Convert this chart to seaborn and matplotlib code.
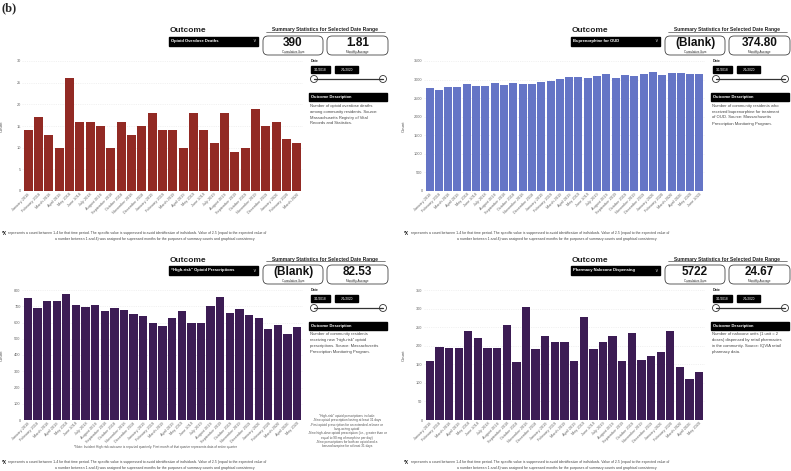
import matplotlib
matplotlib.use('Agg')
import matplotlib.pyplot as plt
import seaborn as sns
import pandas as pd
from matplotlib.patches import Rectangle, FancyBboxPatch, Circle
from matplotlib.lines import Line2D

# ---------------- data ----------------
MONTHS = ["January 2018", "February 2018", "March 2018", "April 2018", "May 2018", "June 2018",
          "July 2018", "August 2018", "September 2018", "October 2018", "November 2018", "December 2018",
          "January 2019", "February 2019", "March 2019", "April 2019", "May 2019", "June 2019",
          "July 2019", "August 2019", "September 2019", "October 2019", "November 2019", "December 2019",
          "January 2020", "February 2020", "March 2020", "April 2020", "May 2020", "June 2020"]

deaths_months = MONTHS[:27]
deaths = [14, 17, 13, 10, 26, 16, 16, 15, 10, 16, 13, 15, 18, 14, 14, 10, 18, 14, 11, 18,
          9, 10, 19, 15, 16, 12, 11]

bup_months = MONTHS[:30]
bup = [2780, 2730, 2800, 2810, 2890, 2820, 2820, 2900, 2850, 2910, 2870, 2880, 2940, 2950, 3020,
       3070, 3060, 3030, 3090, 3140, 3030, 3110, 3090, 3160, 3210, 3130, 3190, 3170, 3150, 3140]

hr_months = MONTHS[:29]
high_risk = [750, 690, 735, 735, 775, 705, 695, 705, 670, 690, 680, 655, 640, 600, 580, 630, 670,
             600, 600, 700, 760, 660, 685, 645, 625, 560, 585, 530, 570]

nal_months = MONTHS[:29]
naloxone = [160, 197, 194, 195, 240, 221, 194, 194, 255, 156, 304, 190, 226, 210, 210, 160, 278,
            190, 210, 225, 159, 235, 161, 172, 182, 240, 142, 110, 130]

outcomes = ["Opioid Overdose Deaths", "Buprenorphine for OUD",
            "\u201cHigh-risk\u201d Opioid Prescriptions", "Pharmacy Naloxone Dispensing"]
cum_sums = ["390", "(Blank)", "(Blank)", "5722"]
monthly_avgs = ["1.81", "374.80", "82.53", "24.67"]
descriptions = [
    ["Number of opioid overdose deaths", "among community residents. Source:",
     "Massachusetts Registry of Vital", "Records and Statistics."],
    ["Number of community residents who", "received buprenorphine for treatment",
     "of OUD. Source: Massachusetts", "Prescription Monitoring Program."],
    ["Number of community residents", "receiving new \u201chigh-risk\u201d opioid",
     "prescriptions. Source: Massachusetts", "Prescription Monitoring Program."],
    ["Number of naloxone units (1 unit = 2", "doses) dispensed by retail pharmacies",
     "in the community. Source: IQVIA retail", "pharmacy data."],
]
colors = ["#922A24", "#6575C6", "#3C1C54", "#3C1C54"]

# ---------------- figure ----------------
sns.set_theme(style='white')
plt.rcParams['font.family'] = ['Liberation Sans', 'DejaVu Sans']

W, H = 791, 471
fig = plt.figure(figsize=(W / 100, H / 100), dpi=100)
T = fig.dpi_scale_trans


def P(x, y):
    return (x / 100, (H - y) / 100)


def txt(x, y, s, **kw):
    kw.setdefault('va', 'center')
    return fig.text(*P(x, y), s, transform=T, **kw)


def rect(x0, y0, x1, y1, **kw):
    fig.add_artist(Rectangle(P(x0, y1), (x1 - x0) / 100, (y1 - y0) / 100, transform=T, **kw))


def rbox(x0, y0, x1, y1, r=5, **kw):
    fig.add_artist(FancyBboxPatch(P(x0, y1), (x1 - x0) / 100, (y1 - y0) / 100,
                                  boxstyle=f"round,pad=0,rounding_size={r / 100}", transform=T, **kw))


def hline(x0, x1, y, **kw):
    fig.add_artist(Line2D([x0 / 100, x1 / 100], [(H - y) / 100] * 2, transform=T, **kw))


FOOT1 = ("represents a count between 1-4 for that time period. The specific value is suppressed to avoid "
         "identification of individuals. Value of 2.5 (equal to the expected value of")
FOOT2 = ("a number between 1 and 4) was assigned for supressed months for the purposes of summary counts "
         "and graphical consistency.")


def panel(ox, oy, months, values, color, ymax, ystep, idx):
    ax = fig.add_axes([(ox + 22) / W, 1 - (oy + 191) / H, 281 / W, 130 / H])
    df = pd.DataFrame({'Month': months, 'Count': values})
    sns.barplot(data=df, x='Month', y='Count', color=color, width=0.86, saturation=1,
                linewidth=0, ax=ax)
    ax.set_ylim(0, ymax)
    ax.set_yticks(list(range(0, ymax + 1, ystep)))
    ax.set_xlim(-0.6, len(months) - 0.4)
    ax.grid(axis='y', color='#e6e6e6', lw=0.4, ls=(0, (2, 2)))
    ax.set_axisbelow(True)
    for s in ax.spines.values():
        s.set_visible(False)
    ax.tick_params(axis='both', length=0, labelsize=2.8, labelcolor='#666666', pad=1)
    ax.set_xticks(list(range(len(months))))
    ax.set_xticklabels(months, rotation=45, ha='right', rotation_mode='anchor')
    ax.set_xlabel('')
    ax.set_ylabel('Count', fontsize=3.2, color='#555555')
    ax.yaxis.set_label_coords(-0.066, 0.5)

    # widgets
    txt(ox + 170, oy + 31, 'Outcome', fontsize=6, weight='bold', color='#222222')
    rect(ox + 169, oy + 37, ox + 258, oy + 45.5, color='black')
    txt(ox + 171, oy + 41.3, outcomes[idx], color='white', fontsize=3, weight='bold')
    txt(ox + 254.5, oy + 41, '\u2228', color='#bbbbbb', fontsize=3.5, ha='center', family='DejaVu Sans')

    txt(ox + 325.5, oy + 30, 'Summary Statistics for Selected Date Range', fontsize=3.6,
        weight='bold', ha='center', color='#222222')
    hline(ox + 266, ox + 385, oy + 32.4, lw=0.4, color='#222222')

    for (x0, x1, big, small) in [(263, 323, cum_sums[idx], 'Cumulative Sum'),
                                 (327, 388, monthly_avgs[idx], 'Monthly Average')]:
        rbox(ox + x0, oy + 36, ox + x1, oy + 55, fc='white', ec='#444444', lw=0.6)
        cx = ox + (x0 + x1) / 2
        txt(cx, oy + 43, big, fontsize=8.5, weight='bold', ha='center', color='#111111')
        txt(cx, oy + 51.8, small, fontsize=2.2, ha='center', color='#333333')
        hline(cx - 9, cx + 9, oy + 53.2, lw=0.25, color='#555555')

    txt(ox + 311, oy + 61, 'Date', fontsize=2.6, weight='bold', color='#222222')
    rect(ox + 311, oy + 66, ox + 330, oy + 73, color='black')
    txt(ox + 320.5, oy + 69.5, '1/1/2018', color='white', fontsize=2.3, ha='center')
    rect(ox + 335, oy + 66, ox + 358, oy + 73, color='black')
    txt(ox + 346.5, oy + 69.5, '7/1/2020', color='white', fontsize=2.3, ha='center')
    hline(ox + 314, ox + 383, oy + 79, lw=0.9, color='#333333')
    for cx in (ox + 314, ox + 383):
        fig.add_artist(Circle(P(cx, oy + 79), 0.035, transform=T, fc='white', ec='#333333', lw=0.6))

    rect(ox + 309, oy + 93, ox + 387, oy + 101, color='black')
    txt(ox + 311, oy + 97, 'Outcome Description', color='white', fontsize=2.9, weight='bold')
    for i, line in enumerate(descriptions[idx]):
        txt(ox + 310, oy + 105.5 + i * 6.0, line, fontsize=3.0, color='#444444')

    # footnote
    txt(ox + 2, oy + 233.3, '*X', fontsize=3.4, weight='bold', color='#222222')
    txt(ox + 8.5, oy + 233.3, FOOT1, fontsize=2.5, color='#444444')
    txt(ox + 155, oy + 239, FOOT2, fontsize=2.5, color='#444444', ha='center')
    return ax


txt(2, 8, '(b)', fontsize=9, weight='bold', family='Liberation Serif')

panel(0, 0, deaths_months, deaths, colors[0], 30, 5, 0)
panel(402, 0, bup_months, bup, colors[1], 3500, 500, 1)
panel(0, 229, hr_months, high_risk, colors[2], 800, 100, 2)
panel(402, 229, nal_months, naloxone, colors[3], 350, 50, 3)

# extra notes on the high-risk panel
txt(155, 447, "*Note: Incident High risk outcome is reported quarterly. First month of that quarter "
    "represents data of entire quarter", fontsize=2.3, ha='center', color='#555555')
hr_notes = ["\u201cHigh-risk\u201d opioid prescriptions include:",
            "-New opioid prescription lasting at least 31 days",
            "-First opioid prescription for an extended-release or",
            "long-acting opioid",
            "-New high-dose opioid prescription (i.e., greater than or",
            "equal to 90 mg of morphine per day)",
            "-New prescriptions for both an opioid and a",
            "benzodiazepine for at least 31 days"]
for i, line in enumerate(hr_notes):
    txt(347, 416 + i * 4.3, line, fontsize=2.3, ha='center', color='#555555')

fig.savefig('out.png', dpi=100)
